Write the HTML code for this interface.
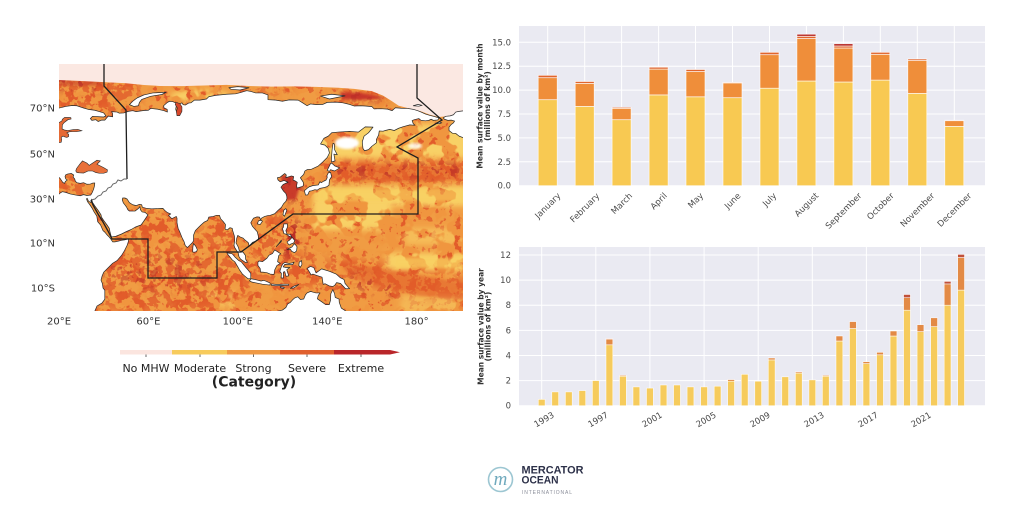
<!DOCTYPE html>
<html><head><meta charset="utf-8">
<style>
html,body{margin:0;padding:0;background:#fff;width:1024px;height:530px;overflow:hidden}
svg{display:block}
.geo *{vector-effect:non-scaling-stroke}
</style></head>
<body>
<svg width="1024" height="530" viewBox="0 0 1024 530" xmlns="http://www.w3.org/2000/svg" font-family="'DejaVu Sans','Liberation Sans',sans-serif">
<defs>
<clipPath id="mc"><rect x="59" y="64" width="404" height="247"/></clipPath>
<filter id="fR" filterUnits="userSpaceOnUse" x="59" y="64" width="404" height="248" color-interpolation-filters="sRGB">
<feTurbulence type="fractalNoise" baseFrequency="0.13" numOctaves="3" seed="11"/>
<feColorMatrix type="matrix" values="0 0 0 0 0.886 0 0 0 0 0.36 0 0 0 0 0.165 18 0 0 0 -10.9"/>
</filter>
<filter id="fR2" filterUnits="userSpaceOnUse" x="59" y="64" width="404" height="248" color-interpolation-filters="sRGB">
<feTurbulence type="fractalNoise" baseFrequency="0.12" numOctaves="3" seed="23"/>
<feColorMatrix type="matrix" values="0 0 0 0 0.886 0 0 0 0 0.36 0 0 0 0 0.165 16 0 0 0 -7.9"/>
</filter>
<filter id="fY" filterUnits="userSpaceOnUse" x="59" y="64" width="404" height="248" color-interpolation-filters="sRGB">
<feTurbulence type="fractalNoise" baseFrequency="0.055" numOctaves="3" seed="5"/>
<feColorMatrix type="matrix" values="0 0 0 0 0.972 0 0 0 0 0.82 0 0 0 0 0.4 14 0 0 0 -6.4"/>
</filter>
<filter id="fD" filterUnits="userSpaceOnUse" x="59" y="64" width="404" height="248" color-interpolation-filters="sRGB">
<feTurbulence type="fractalNoise" baseFrequency="0.12" numOctaves="3" seed="41"/>
<feColorMatrix type="matrix" values="0 0 0 0 0.72 0 0 0 0 0.17 0 0 0 0 0.15 18 0 0 0 -10.2"/>
</filter>
<filter id="b5" x="-10%" y="-10%" width="120%" height="120%"><feGaussianBlur stdDeviation="5"/></filter>
<filter id="b3" x="-10%" y="-10%" width="120%" height="120%"><feGaussianBlur stdDeviation="3"/></filter>
<filter id="b1" x="-10%" y="-10%" width="120%" height="120%"><feGaussianBlur stdDeviation="1.2"/></filter>
<mask id="mR" maskUnits="userSpaceOnUse" x="0" y="0" width="1024" height="530">
<g fill="#fff" filter="url(#b5)">
<rect x="55" y="175" width="44" height="25"/>
<ellipse cx="160" cy="275" rx="100" ry="40"/>
<ellipse cx="155" cy="230" rx="42" ry="22"/>
<ellipse cx="222" cy="232" rx="18" ry="20"/>
<ellipse cx="275" cy="240" rx="25" ry="28"/>
<ellipse cx="300" cy="272" rx="45" ry="14"/>
<rect x="55" y="76" width="85" height="36"/>
<rect x="328" y="160" width="140" height="24"/>
<polygon points="335,258 380,262 468,280 468,306 420,300 345,278"/>
<rect x="250" y="83" width="40" height="10"/>
<polygon points="335,88 372,90 392,99 340,103"/>
</g>
</mask>
<mask id="mY" maskUnits="userSpaceOnUse" x="0" y="0" width="1024" height="530">
<rect x="59" y="64" width="404" height="248" fill="#fff" opacity="0.12"/>
<g fill="#fff" filter="url(#b3)">
<rect x="313" y="186" width="155" height="20"/>
<rect x="313" y="204" width="78" height="26"/>
<rect x="405" y="228" width="62" height="17" opacity=".6"/>
<rect x="387" y="253" width="80" height="17"/>
<rect x="300" y="124" width="168" height="34"/>
<ellipse cx="200" cy="96" rx="30" ry="6"/>
<rect x="400" y="295" width="68" height="18" opacity=".5"/>
<ellipse cx="228" cy="300" rx="20" ry="8" opacity=".6"/>
</g>
</mask>
<mask id="mD" maskUnits="userSpaceOnUse" x="0" y="0" width="1024" height="530">
<g fill="#fff" filter="url(#b5)">
<rect x="330" y="166" width="133" height="10"/>
<rect x="280" y="173" width="22" height="27"/>
<polygon points="350,275 395,285 395,295 350,285"/>
<rect x="55" y="76" width="60" height="12"/>
<polygon points="338,90 380,93 390,99 342,99"/>
<rect x="282" y="222" width="20" height="35"/>
<ellipse cx="160" cy="272" rx="60" ry="18" opacity=".5"/>
</g>
</mask>
</defs>

<!-- ================= MAP ================= -->
<g clip-path="url(#mc)">
<rect x="59" y="64" width="404" height="248" fill="#f0963f"/>
<rect x="59" y="64" width="404" height="248" filter="url(#fR)"/>
<rect x="59" y="64" width="404" height="248" filter="url(#fR2)" mask="url(#mR)"/>
<rect x="59" y="64" width="404" height="248" filter="url(#fY)" mask="url(#mY)"/>
<g filter="url(#b1)">
<polygon points="330,166 380,164 463,166 463,180 400,182 330,178" fill="#e25c2a" opacity=".55"/>
<polygon points="340,262 380,268 463,283 463,300 420,296 350,278" fill="#e25c2a" opacity=".55"/>
<polygon points="281,175 298,175 300,186 296,199 286,201 281,190" fill="#c93a2a"/>
<rect x="395" y="258" width="68" height="10" fill="#f8d060" opacity=".6"/>
<rect x="320" y="189" width="143" height="12" fill="#f8d060" opacity=".45"/>
<polygon points="340,92 360,93 388,98 360,100 342,99" fill="#c7352a"/>
<rect x="59" y="80" width="45" height="6" fill="#c73a2a" opacity=".6"/>
</g>
<rect x="59" y="64" width="404" height="248" filter="url(#fD)" mask="url(#mD)"/>
<ellipse cx="347" cy="143" rx="12" ry="6" fill="#fff" filter="url(#b1)"/>
<ellipse cx="415" cy="146" rx="7" ry="3" fill="#fff" opacity=".8" filter="url(#b1)"/>

<g class="geo" transform="matrix(2.235 0 0 -2.25 14.3 265.5)">
<polygon fill="#fbe8e2" points="19,92 203,92 203,66 195,66.5 190,66 186,67 182,68.5 176,70 172,71 169,73 165,75.5 160,77.5 152,78.5 145,79 135,79.4 125,79.6 115,79.5 105,79.8 95,80.3 85,80 75,79.7 65,79.8 58,80.2 50,81 40,81.5 30,82 19,82.5"/>
<g fill="#fff" stroke="#2a2a2a" stroke-width="0.7" stroke-linejoin="round">
<polygon points="19,-22 19,30.5 20.2,32 21.5,32.8 23,32.5 25,31.8 27.5,31.3 29.5,31 31,31.5 32.5,31.1 34.2,31.3 34.9,32.5 35.5,34 35.9,35.5 36,36.7 35,36.6 34,36.2 32.5,36.1 31,36.8 29.5,36.5 28,36.8 27.3,37.5 27,38.5 26.3,39.3 26.6,40.2 25.5,40.9 24,40.7 23,40.3 22.7,39.5 23,38.5 23.7,38 22.8,37.3 22.5,36.5 21.7,36.9 21.1,37.8 20.5,38.7 19,40 19,69.8 21,70.2 23,70.7 25.8,71.1 28,71 30,70.3 31,70 33,69.4 36,69 38,68.4 40,67.8 41,66.5 40,66 38,66.1 35,66.3 34,65.3 34.7,64.5 36.5,64.8 37.5,64 39,64.6 40.5,64.6 42,66.4 44,66.1 44,67.5 43.5,68.4 46,68.2 47,67.7 49,67.8 51,68.5 53,68.8 54.5,68.4 56,68.6 58,68.9 60,69 61,69.8 64,69.5 67,68.8 68.5,68.2 68.4,69.4 67,70 66.8,71 68.5,72.5 69.5,73 71,72.8 72.6,72.1 72.5,71 72.2,69.5 72.7,68 73.5,68.7 73.3,70 73.5,71.5 75,72.3 75.5,71.5 76.5,71.3 78,72.2 79,72.3 80.6,73.5 83,73.5 86,74 87,75 90,75.6 95,76.1 99,76.3 101,76.8 104,77.7 106,77.3 108,76.7 111,76.7 113.5,75.8 113.5,73.7 117,73.5 120,73 123,73.6 127,73.5 129,72.3 131,71 132.5,71.8 135,71.5 138,71.6 140,72.5 144,72.6 147,72.3 150,71.6 152,70.9 155,71 157,70.9 160,70.6 161,69.6 164,69.7 167,69.5 169,68.8 170.5,70.1 173,69.9 176,69.8 178.5,69.4 180.5,68.8 182,68.2 184,67.3 186,66.7 188,66.2 190,65.6 189.5,64.7 187.5,64.5 186.5,65 185.5,64.5 184,64.3 182,64.5 181,65.3 179,64.8 178,64.4 178.5,63 179.3,62.3 177,62.5 174,61.7 172,61 170,60 168,60.5 166,60 165,59.7 163.3,59.8 163,58 162,56 162,54.5 160,53 158.5,51.5 156.7,51 156,52 155.7,55 156.5,57.5 158.5,59 160.5,61.5 157,61.6 154,59.3 150,59.6 145,59.3 142,59 140.5,57.5 138.5,56.5 137,54 139,53.5 140.5,52 141,50 140,48 138,46 136,44.2 133,42.8 131,42.6 130,42 129.5,40.5 128,39 129.3,37 129.4,35.5 128.5,35 126.5,34.4 126.3,35.5 126.6,37 125.5,37.7 124.7,38 125,39.5 124,39.8 121.5,39 121.7,40.2 121,40.9 119,39.3 117.7,39 118,38 119,37.2 120.7,37.8 122.5,37 120.3,36 119.3,34.8 120.5,33 121.5,32 121.9,30.8 122,29.8 121.5,28.5 120.5,27.5 119.5,25.8 118,24.5 116.5,23 114.5,22.3 113.5,22.2 112,21.8 110.5,21 110.2,20.2 109.7,21.5 108.5,21.6 107,21 106.5,20.2 105.8,19 106.5,17.5 107.5,16.3 108.7,15 109.2,13 109.2,11.5 108,10.8 106.6,10.3 105,8.6 104.8,10 104.3,10.5 103,11.5 102.3,12.2 101,12.7 100,13.4 99.5,12 99.2,10 99.8,9 100.3,8 100.6,6.8 101.5,6 102.3,6 103.4,4.5 103.5,2.8 104.3,1.4 103.5,1.3 102,2.3 101.2,2.9 100.5,4 100.2,5.5 98.6,8 98.3,9 98.6,11 98.5,13 97.7,15.5 97.5,16.5 96.5,16.8 95.3,15.8 94.3,16.2 94.5,18.2 93.5,19.5 92.3,20.8 91.8,22.3 90.5,22.3 89,21.8 87,21.5 86.5,20 85,19.3 83.5,18 82.2,16.7 81,15.5 80.2,13.5 80.2,11 79.8,10.3 78.5,9 77.5,8 76.5,8.8 76,10.5 75,12.5 74,15 73.3,16.5 72.8,19 72.8,21 72.5,21.8 70.5,20.8 69,22.3 70,22.9 68.5,23.5 67.3,24.5 66.5,25.4 64,25.3 61.5,25.2 59,25.4 57.3,25.9 57,27 56,27.2 54.5,26.6 53,27 51.5,27.9 50.5,29.5 49.5,30 48.5,30 48.3,29.2 48.8,27.8 49.6,26.8 50.2,26 50.8,24.8 51.5,24.2 52.5,24.2 54,24.2 55.5,25.3 56.2,26.2 56.4,24.8 57.2,23.8 58.5,23.6 59.8,22.5 58.8,21 57.8,19.5 56.7,18 55.3,17.5 54,17 52.3,16 50,15 48,14 45.5,13 43.5,12.7 43.2,13.5 42.8,15 42.5,16.5 41.5,18 40,20 39,21.5 38.8,22.5 37.5,24.5 36,26.5 35,28 34.6,29.5 34.3,28 33.2,28.6 32.6,29.9 32.3,29.6 32.8,28.3 33.8,27 34.8,25.5 35.7,23.8 36.9,22 37.3,19.5 38.6,18 39.7,15.5 40.5,14.8 41.6,13.5 42.5,12.6 43.3,11.6 44,10.5 45,10.5 46.5,10.8 48,11.2 49.3,11.4 51.2,11.9 51,10.5 50.5,9 49.3,6.6 48,4.5 46,2.2 44,1 42.5,-0.5 41,-2 40,-3 39.3,-4.6 38.8,-6.5 39.4,-8 39.7,-10 40.5,-11 40.5,-15 39.2,-16.7 37,-18 35.3,-22"/>
<polygon points="129.8,33.2 130.3,31.3 131.3,31.4 132,33 133,33.2 134.5,33.7 135.5,33.5 136.8,34.3 138.5,34.6 139.8,35 140.8,35.7 141,38 142,39.5 141.5,41.4 140.5,41.2 139.9,40 140,39 139.5,38 138.5,37.5 137.3,36.8 136.8,37.3 136,35.8 133.5,35.5 132,35 131,34.3"/>
<polygon points="140,42.3 140.5,43.3 141.5,45.3 142,45.5 143.5,44.2 145.5,43.4 145,43 143.3,42 141.5,42.6 141,41.8"/>
<polygon points="142,46 143.5,46.5 143,49.5 144.5,49.2 143.3,51.5 143.2,54 142.6,54.3 142.2,51.5 142,49 141.9,47"/>
<polygon points="120.2,22.6 120.9,21.9 121.9,24.5 121.5,25.3 120.6,24.6"/>
<polygon points="108.7,18.5 110,18.2 111,19.6 110.6,20.1 109.3,19.9"/>
<polygon points="120.6,18.5 122.2,18.5 122.2,17 121.5,15.5 122,14 123.5,13.8 124.2,12.6 123,13 121.7,13.9 120.6,14.2 120.3,15.5 119.9,16.4 120.4,17"/>
<polygon points="122,7 123.5,7.9 124.2,8.2 125.4,9.8 126.5,8.3 126.3,6.5 125.4,5.7 124.1,6.3 123.5,7.3"/>
<polygon points="122,10.5 123.2,11.3 124.3,12.5 125.5,11.1 125,10 123.8,9.6 123,9.1 122.4,9.8"/>
<polygon points="117.2,8.4 119.4,10.6 119.5,11.3 118.4,9.8"/>
<polygon points="109,1.5 109.6,2 111,1.7 113,3.2 114,4.6 115.5,5.3 116.5,6.9 117.7,6.2 119.2,5.2 118.3,4.4 117.8,1.7 119,0.9 117.5,0 116.5,-2 116.2,-4 114.5,-3.8 113,-3.2 111.5,-3 110.2,-2.9 110,-1.3 109,0"/>
<polygon points="95.2,5.6 97.5,5.2 98.7,3.8 100.4,2.2 101.5,1.7 103.7,-1 104.5,-1.9 105.8,-3.5 105.8,-5.8 104.6,-5.9 103,-4.6 102,-3.7 100.8,-2 100,-0.6 98.7,1.6 97.5,2.5 96.3,4 95.3,5.2"/>
<polygon points="105.2,-6.8 106,-5.9 108,-6.3 110.4,-6.9 111.5,-6.6 112.5,-6.9 114.5,-7.8 114.4,-8.7 111,-8.3 108.5,-7.8 106.4,-7.4"/>
<polygon points="115,-8.2 117,-8.4 119,-8.4 120.5,-8.3 122.8,-8.3 122.8,-8.8 120,-8.9 117,-9 115,-8.8"/>
<polygon points="123.5,-10.2 125,-9.2 127.3,-8.4 126.5,-9 125,-10"/>
<polygon points="119,-9.4 120.8,-9.8 120.5,-10.3 119.2,-9.9"/>
<polygon points="119.4,-5.5 119.5,-3.5 118.8,-2.6 119.5,-0.5 120.1,0.7 121,1.3 123,0.9 124.5,1.2 125.2,1.5 124.6,0.4 123.3,0.4 121,0.5 120.3,-0.6 121.6,-0.9 123.3,-0.9 121.9,-1.9 122.8,-4.6 121.6,-4.8 121,-2.7 120.4,-2.9 120.4,-5.6"/>
<polygon points="127.5,1.5 128.5,2.2 128.7,0.5 128,-0.8 127.3,0"/>
<polygon points="131,-1.3 132.5,-0.4 134,-0.9 135,-3.3 137.5,-1.5 141,-2.6 144,-3.8 145.8,-5.4 147.5,-6.2 148,-8 150,-10.3 148.2,-10.3 146,-8 144.2,-7.6 143.3,-8.9 142.5,-9.3 141,-9.1 139,-8.1 138.2,-8.4 137.7,-5.2 135.3,-4.4 133.6,-3.8 132.8,-4.2 132,-2.8 131.2,-1.6"/>
<polygon points="115,-22 116,-20.8 118,-20.3 120,-19.8 121.5,-18.7 122.3,-17.1 123.5,-16.4 124.5,-15.3 125.5,-14.4 126.8,-13.9 128,-15.1 129.5,-14.9 130.3,-13 131,-12.2 132.6,-11.5 133.5,-11.8 135,-12.2 136.8,-12.2 136,-13.3 135.6,-14.8 137.8,-16.3 139.3,-17.4 140.9,-17.4 141.5,-15.4 141.6,-12.6 142.5,-10.7 143.3,-12.5 143.6,-14.2 145.3,-14.9 145.4,-16.4 146.3,-18.9 148.7,-20.5 149.5,-22"/>
<polygon points="79.8,6 79.9,8.2 80.2,9.8 81.2,8.5 81.9,7 81.5,6.2 80.6,5.9"/>
<polygon points="51.5,71.5 53,73 55,74.5 58,75.8 62,76.7 68,77 66,76 61,75.2 57,73.8 56,72.5 55.5,71 53.5,70.7"/>
<polygon points="96,79 100,79.5 105,79 101,78 97,78.3"/>
<polygon points="137,75.3 142,76.1 148,75.4 141,74"/>
<polygon points="178.5,71 180.5,71.6 182.5,71.2 181,70.8"/>
<polygon points="188.5,63.2 190,63.8 191.3,63.4 190,63"/>
<polygon points="191.9,65.6 193,66.3 195,66.5 196.5,67 197.5,68.2 199,68.5 203,69 203,56 199,57.5 197.5,58.7 196,58.8 194.5,60 194.5,61.5 195.5,62.7 196.5,63.4 197,64.2 195.5,64.6 194,64.5 192.5,65"/>
</g>
<g stroke="#2a2a2a" stroke-width="0.6">
<polygon fill="#e8703a" points="27.5,42 28,41.3 29,41.2 31,41.1 33,42 35,42 36.5,41.3 38,41 40,41 41.5,41.5 41.7,42.5 40,43.5 38,44.5 37,45 38.5,46.5 37,46.8 35,45.5 33.5,44.5 32.5,45.5 30.5,46.5 29.5,45.3 28.5,44 27.8,43"/>
<polygon fill="#e56a35" points="19,54.5 21,54.8 21.2,56 21,57 21.8,57.5 22.5,57.2 23.5,56.9 24.3,57.3 24.3,58.3 23.5,58.9 24.5,59.4 26,59.5 28,59.5 30.2,59.9 28.5,60.5 26.5,60.4 24,60 22.5,60.2 21.4,60.7 21.5,62.5 22.3,63.5 24,64.8 25.4,65.1 25.3,65.7 24.5,65.8 22.5,65.8 21.5,65 21.3,64.3 20,63.5 19,63"/>
<polygon fill="#d8472a" points="72.3,72.5 74,72 75,70.5 75,68.5 74,66.6 72.8,66.6 72.5,68.5 73,70 72,71.5"/>
</g>
</g>
<path d="M104,64 L104,86 L126,110 L127,179" fill="none" stroke="#1e1e1e" stroke-width="1.3"/>
<path d="M127,179 L124,179 L121,181 L118,180 L116,183 L113,184 L111,187 L108,188 L106,191 L103,192 L101,195 L98,196 L95,199 L91,200" fill="none" stroke="#666" stroke-width="1"/>
<path d="M91,200 L93,205 L98,214 L103,222 L108,231 L112,239 L148,239 L148,278 L217,278 L217,252 L241,252 L293,214 L418,214 L418,158 L397,147 L442,120 L417,98 L417,64" fill="none" stroke="#1e1e1e" stroke-width="1.3"/>
</g>

<!-- map labels -->
<g font-size="10" fill="#333" text-anchor="end">
<text x="55" y="111.5">70°N</text>
<text x="55" y="157.5">50°N</text>
<text x="55" y="202.5">30°N</text>
<text x="55" y="246.5">10°N</text>
<text x="55" y="291.5">10°S</text>
</g>
<g font-size="10" fill="#333" text-anchor="middle">
<text x="59" y="324.5">20°E</text>
<text x="148.4" y="324.5">60°E</text>
<text x="237.8" y="324.5">100°E</text>
<text x="327.2" y="324.5">140°E</text>
<text x="416.6" y="324.5">180°</text>
</g>

<!-- colorbar -->
<rect x="120" y="350" width="52" height="4.5" fill="#fbe5df"/>
<rect x="172" y="350" width="55" height="4.5" fill="#f7cb5c"/>
<rect x="227" y="350" width="53" height="4.5" fill="#ef9944"/>
<rect x="280" y="350" width="54" height="4.5" fill="#e0602e"/>
<rect x="334" y="350" width="56" height="4.5" fill="#b9262a"/>
<polygon points="390,350 400,352.25 390,354.5" fill="#b9262a"/>
<g stroke="#444" stroke-width="0.8">
<line x1="146" y1="354.5" x2="146" y2="357"/>
<line x1="200" y1="354.5" x2="200" y2="357"/>
<line x1="253.5" y1="354.5" x2="253.5" y2="357"/>
<line x1="307" y1="354.5" x2="307" y2="357"/>
<line x1="361" y1="354.5" x2="361" y2="357"/>
</g>
<g font-size="11" fill="#222" text-anchor="middle">
<text x="146" y="372">No MHW</text>
<text x="200" y="372">Moderate</text>
<text x="253.5" y="372">Strong</text>
<text x="307" y="372">Severe</text>
<text x="361" y="372">Extreme</text>
</g>
<text x="254" y="386.5" font-size="14" font-weight="bold" fill="#222" text-anchor="middle">(Category)</text>

<!-- ================= TOP CHART ================= -->
<rect x="519" y="26" width="466" height="160" fill="#eaeaf2"/>
<g stroke="#fff" stroke-width="1">
<line x1="519" x2="985" y1="185.7" y2="185.7"/><line x1="519" x2="985" y1="161.8" y2="161.8"/><line x1="519" x2="985" y1="137.9" y2="137.9"/><line x1="519" x2="985" y1="114" y2="114"/><line x1="519" x2="985" y1="90.1" y2="90.1"/><line x1="519" x2="985" y1="66.2" y2="66.2"/><line x1="519" x2="985" y1="42.3" y2="42.3"/>
<line x1="547.7" x2="547.7" y1="26" y2="186"/><line x1="584.7" x2="584.7" y1="26" y2="186"/><line x1="621.6" x2="621.6" y1="26" y2="186"/><line x1="658.6" x2="658.6" y1="26" y2="186"/><line x1="695.5" x2="695.5" y1="26" y2="186"/><line x1="732.5" x2="732.5" y1="26" y2="186"/><line x1="769.5" x2="769.5" y1="26" y2="186"/><line x1="806.4" x2="806.4" y1="26" y2="186"/><line x1="843.4" x2="843.4" y1="26" y2="186"/><line x1="880.3" x2="880.3" y1="26" y2="186"/><line x1="917.3" x2="917.3" y1="26" y2="186"/><line x1="954.3" x2="954.3" y1="26" y2="186"/>
</g>
<g stroke="#fff" stroke-width="0.7" stroke-opacity="0.85">
<g fill="#f8c952">
<rect x="538.2" y="99.7" width="19" height="86"/>
<rect x="575.2" y="106.4" width="19" height="79.3"/>
<rect x="612.1" y="119.7" width="19" height="66"/>
<rect x="649.1" y="94.9" width="19" height="90.8"/>
<rect x="686" y="96.8" width="19" height="88.9"/>
<rect x="723" y="97.7" width="19" height="88"/>
<rect x="760" y="88.2" width="19" height="97.5"/>
<rect x="796.9" y="81" width="19" height="104.7"/>
<rect x="833.9" y="82" width="19" height="103.7"/>
<rect x="870.8" y="80.1" width="19" height="105.6"/>
<rect x="907.8" y="93.4" width="19" height="92.3"/>
<rect x="944.8" y="126.4" width="19" height="59.3"/>
</g>
<g fill="#ef8e3a">
<rect x="538.2" y="77.7" width="19" height="22"/>
<rect x="575.2" y="83.4" width="19" height="23"/>
<rect x="612.1" y="108.3" width="19" height="11.4"/>
<rect x="649.1" y="69.1" width="19" height="25.8"/>
<rect x="686" y="71.5" width="19" height="25.3"/>
<rect x="723" y="82.9" width="19" height="14.8"/>
<rect x="760" y="54.7" width="19" height="33.5"/>
<rect x="796.9" y="38.5" width="19" height="42.5"/>
<rect x="833.9" y="48" width="19" height="34"/>
<rect x="870.8" y="54.3" width="19" height="25.8"/>
<rect x="907.8" y="60.5" width="19" height="32.9"/>
<rect x="944.8" y="120.7" width="19" height="5.7"/>
</g>
<g fill="#e0652e">
<rect x="538.2" y="75.3" width="19" height="2.4"/>
<rect x="575.2" y="81.5" width="19" height="1.9"/>
<rect x="612.1" y="107.3" width="19" height="1"/>
<rect x="649.1" y="67.2" width="19" height="1.9"/>
<rect x="686" y="69.5" width="19" height="2"/>
<rect x="723" y="82.3" width="19" height="0.6"/>
<rect x="760" y="52.3" width="19" height="2.4"/>
<rect x="796.9" y="36.3" width="19" height="2.2"/>
<rect x="833.9" y="46" width="19" height="2"/>
<rect x="870.8" y="52.3" width="19" height="2"/>
<rect x="907.8" y="59" width="19" height="1.5"/>
<rect x="944.8" y="120.2" width="19" height="0.5"/>
</g>
<g fill="#b8302a">
<rect x="796.9" y="34.2" width="19" height="2.1"/>
<rect x="833.9" y="43.7" width="19" height="2.3"/>
</g>
</g>
<g font-size="8.5" fill="#4a4a4a" text-anchor="end">
<text x="511" y="188.7">0.0</text><text x="511" y="164.8">2.5</text><text x="511" y="140.9">5.0</text><text x="511" y="117">7.5</text><text x="511" y="93.1">10.0</text><text x="511" y="69.2">12.5</text><text x="511" y="45.3">15.0</text>
</g>
<g font-size="8.5" fill="#4a4a4a" text-anchor="middle">
<text x="547.7" y="205.5" dy="0.35em" transform="rotate(-45 547.7 205.5)">January</text>
<text x="584.7" y="207.6" dy="0.35em" transform="rotate(-45 584.7 207.6)">February</text>
<text x="621.6" y="203.4" dy="0.35em" transform="rotate(-45 621.6 203.4)">March</text>
<text x="658.6" y="201" dy="0.35em" transform="rotate(-45 658.6 201)">April</text>
<text x="695.5" y="200.3" dy="0.35em" transform="rotate(-45 695.5 200.3)">May</text>
<text x="732.5" y="200.7" dy="0.35em" transform="rotate(-45 732.5 200.7)">June</text>
<text x="769.5" y="199.5" dy="0.35em" transform="rotate(-45 769.5 199.5)">July</text>
<text x="806.4" y="204.6" dy="0.35em" transform="rotate(-45 806.4 204.6)">August</text>
<text x="843.4" y="210.7" dy="0.35em" transform="rotate(-45 843.4 210.7)">September</text>
<text x="880.3" y="206.1" dy="0.35em" transform="rotate(-45 880.3 206.1)">October</text>
<text x="917.3" y="209.8" dy="0.35em" transform="rotate(-45 917.3 209.8)">November</text>
<text x="954.3" y="209.7" dy="0.35em" transform="rotate(-45 954.3 209.7)">December</text>
</g>
<g font-size="7.5" font-weight="bold" fill="#333" text-anchor="middle">
<text transform="translate(480,106) rotate(-90)" dy="0.35em">Mean surface value by month</text>
<text transform="translate(487.5,106) rotate(-90)" dy="0.35em">(millions of km²)</text>
</g>

<!-- ================= BOTTOM CHART ================= -->
<rect x="519" y="247" width="466" height="159" fill="#eaeaf2"/>
<g stroke="#fff" stroke-width="1">
<line x1="519" x2="985" y1="405.7" y2="405.7"/><line x1="519" x2="985" y1="380.6" y2="380.6"/><line x1="519" x2="985" y1="355.5" y2="355.5"/><line x1="519" x2="985" y1="330.4" y2="330.4"/><line x1="519" x2="985" y1="305.2" y2="305.2"/><line x1="519" x2="985" y1="280.1" y2="280.1"/><line x1="519" x2="985" y1="255" y2="255"/>
<line x1="541.7" x2="541.7" y1="247" y2="406"/><line x1="595.8" x2="595.8" y1="247" y2="406"/><line x1="649.9" x2="649.9" y1="247" y2="406"/><line x1="704.1" x2="704.1" y1="247" y2="406"/><line x1="758.2" x2="758.2" y1="247" y2="406"/><line x1="812.3" x2="812.3" y1="247" y2="406"/><line x1="866.4" x2="866.4" y1="247" y2="406"/><line x1="920.5" x2="920.5" y1="247" y2="406"/>
</g>
<g stroke="#fff" stroke-width="0.6" stroke-opacity="0.85">
<g fill="#f6cb5c">
<rect x="538.3" y="399.4" width="6.8" height="6.3"/>
<rect x="551.8" y="391.9" width="6.8" height="13.8"/>
<rect x="565.4" y="391.9" width="6.8" height="13.8"/>
<rect x="578.9" y="390.6" width="6.8" height="15.1"/>
<rect x="592.4" y="380.6" width="6.8" height="25.1"/>
<rect x="606" y="344.8" width="6.8" height="60.9"/>
<rect x="619.5" y="376.2" width="6.8" height="29.5"/>
<rect x="633" y="386.9" width="6.8" height="18.8"/>
<rect x="646.5" y="388.1" width="6.8" height="17.6"/>
<rect x="660.1" y="385" width="6.8" height="20.7"/>
<rect x="673.6" y="385" width="6.8" height="20.7"/>
<rect x="687.1" y="386.9" width="6.8" height="18.8"/>
<rect x="700.7" y="386.9" width="6.8" height="18.8"/>
<rect x="714.2" y="386.2" width="6.8" height="19.5"/>
<rect x="727.7" y="381.2" width="6.8" height="24.5"/>
<rect x="741.3" y="374.3" width="6.8" height="31.4"/>
<rect x="754.8" y="381.2" width="6.8" height="24.5"/>
<rect x="768.3" y="359.9" width="6.8" height="45.8"/>
<rect x="781.8" y="376.8" width="6.8" height="28.9"/>
<rect x="795.4" y="373" width="6.8" height="32.7"/>
<rect x="808.9" y="379.9" width="6.8" height="25.8"/>
<rect x="822.4" y="376.2" width="6.8" height="29.5"/>
<rect x="836" y="341" width="6.8" height="64.7"/>
<rect x="849.5" y="328.5" width="6.8" height="77.2"/>
<rect x="863" y="363.6" width="6.8" height="42.1"/>
<rect x="876.6" y="354.8" width="6.8" height="50.9"/>
<rect x="890.1" y="336" width="6.8" height="69.7"/>
<rect x="903.6" y="310.2" width="6.8" height="95.5"/>
<rect x="917.1" y="331.6" width="6.8" height="74.1"/>
<rect x="930.7" y="326.6" width="6.8" height="79.1"/>
<rect x="944.2" y="305.2" width="6.8" height="100.5"/>
<rect x="957.7" y="290.1" width="6.8" height="115.6"/>
</g>
<g fill="#e38a45">
<rect x="606" y="339.1" width="6.8" height="5.7"/>
<rect x="619.5" y="375.3" width="6.8" height="0.9"/>
<rect x="727.7" y="379.6" width="6.8" height="1.6"/>
<rect x="768.3" y="358" width="6.8" height="1.9"/>
<rect x="795.4" y="371.8" width="6.8" height="1.2"/>
<rect x="822.4" y="375.3" width="6.8" height="0.9"/>
<rect x="836" y="336" width="6.8" height="5"/>
<rect x="849.5" y="321.6" width="6.8" height="6.9"/>
<rect x="863" y="361.7" width="6.8" height="1.9"/>
<rect x="876.6" y="352.3" width="6.8" height="2.5"/>
<rect x="890.1" y="331" width="6.8" height="5"/>
<rect x="903.6" y="297.7" width="6.8" height="12.5"/>
<rect x="917.1" y="324.7" width="6.8" height="6.9"/>
<rect x="930.7" y="317.8" width="6.8" height="8.8"/>
<rect x="944.2" y="283.9" width="6.8" height="21.3"/>
<rect x="957.7" y="257.5" width="6.8" height="32.6"/>
</g>
<g fill="#c0503a">
<rect x="606" y="338.5" width="6.8" height="0.6"/>
<rect x="903.6" y="294.5" width="6.8" height="3.2"/>
<rect x="944.2" y="281.4" width="6.8" height="2.5"/>
<rect x="957.7" y="254.4" width="6.8" height="3.1"/>
</g>
</g>
<g font-size="8.5" fill="#4a4a4a" text-anchor="end">
<text x="511" y="408.7">0</text><text x="511" y="383.6">2</text><text x="511" y="358.5">4</text><text x="511" y="333.4">6</text><text x="511" y="308.2">8</text><text x="511" y="283.1">10</text><text x="511" y="258">12</text>
</g>
<g font-size="8.5" fill="#4a4a4a" text-anchor="middle">
<text x="544" y="419.5" dy="0.35em" transform="rotate(-30 544 419.5)">1993</text>
<text x="598" y="419.5" dy="0.35em" transform="rotate(-30 598 419.5)">1997</text>
<text x="652" y="419.5" dy="0.35em" transform="rotate(-30 652 419.5)">2001</text>
<text x="706" y="419.5" dy="0.35em" transform="rotate(-30 706 419.5)">2005</text>
<text x="760" y="419.5" dy="0.35em" transform="rotate(-30 760 419.5)">2009</text>
<text x="814" y="419.5" dy="0.35em" transform="rotate(-30 814 419.5)">2013</text>
<text x="868" y="419.5" dy="0.35em" transform="rotate(-30 868 419.5)">2017</text>
<text x="921" y="419.5" dy="0.35em" transform="rotate(-30 921 419.5)">2021</text>
</g>
<g font-size="7.5" font-weight="bold" fill="#333" text-anchor="middle">
<text transform="translate(481,326.5) rotate(-90)" dy="0.35em">Mean surface value by year</text>
<text transform="translate(488,326.5) rotate(-90)" dy="0.35em">(millions of km²)</text>
</g>

<!-- ================= LOGO ================= -->
<circle cx="500.5" cy="479.5" r="12" fill="none" stroke="#9cc6d2" stroke-width="1.6"/>
<text x="500.5" y="485" font-family="'Liberation Serif',serif" font-style="italic" font-size="19" fill="#6fa9bd" text-anchor="middle">m</text>
<text x="521.5" y="473.5" font-family="'Liberation Sans',sans-serif" font-weight="bold" font-size="11" fill="#2c3048" textLength="62" lengthAdjust="spacingAndGlyphs">MERCATOR</text>
<text x="521.5" y="483.5" font-family="'Liberation Sans',sans-serif" font-weight="bold" font-size="11" fill="#2c3048" textLength="37" lengthAdjust="spacingAndGlyphs">OCEAN</text>
<text x="522" y="494" font-family="'Liberation Sans',sans-serif" font-size="5" fill="#8a8d99" textLength="50" lengthAdjust="spacing">INTERNATIONAL</text>
</svg>
</body></html>
